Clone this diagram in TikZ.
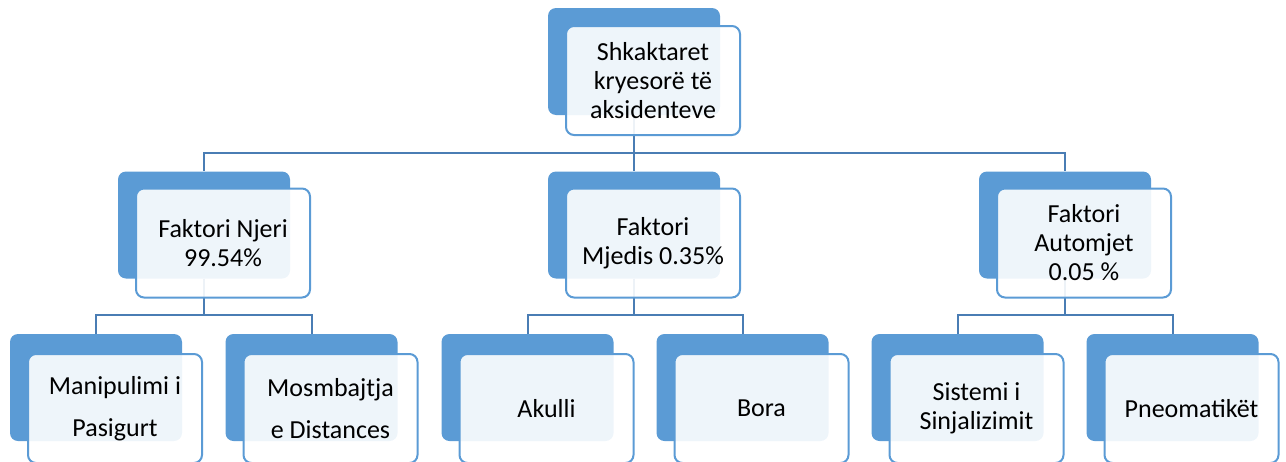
\documentclass[tikz,border=0pt]{standalone}
\usepackage{fontspec}
\setmainfont{Carlito}
\usetikzlibrary{positioning}
\definecolor{boxblue}{HTML}{5B9BD5}
\definecolor{linkblue}{HTML}{4A7DB4}

\begin{document}
\begin{tikzpicture}[x=1pt, y=-1pt, font=\fontsize{26}{29}\selectfont,
    backbox/.style={fill=boxblue, rounded corners=8pt, inner sep=0pt,
      minimum width=172pt, minimum height=107pt},
    frontbox/.style={draw=boxblue, line width=2pt, fill=white, fill opacity=0.9,
      text opacity=1, rounded corners=8pt, inner sep=0pt, align=center,
      minimum width=174pt, minimum height=109pt},
    conn/.style={draw=linkblue, line width=2pt}]
  \useasboundingbox (0,0) rectangle (1286,461);

  % back shapes
  \node[backbox] (root-b) at (634,61.5) {};
  \node[backbox] (njeri-b) at (204,225) {};
  \node[backbox] (mjedis-b) at (634,225) {};
  \node[backbox] (automjet-b) at (1065,225) {};
  \node[backbox] (manip-b) at (96,387.5) {};
  \node[backbox] (distanc-b) at (311.5,387.5) {};
  \node[backbox] (akull-b) at (527.5,387.5) {};
  \node[backbox] (bora-b) at (742.5,387.5) {};
  \node[backbox] (sinjal-b) at (957.5,387.5) {};
  \node[backbox] (pneum-b) at (1172.5,387.5) {};

  % connectors
  \coordinate (bus0) at (634,153);
  \coordinate (bus1) at (204,315);
  \coordinate (bus2) at (634,315);
  \coordinate (bus3) at (1065,315);
  \draw[conn] (root-b.south) -- (bus0);
  \draw[conn] (bus0) -| (njeri-b.north);
  \draw[conn] (bus0) -| (automjet-b.north);
  \draw[conn] (bus0) -- (mjedis-b.north);
  \draw[conn] (njeri-b.south) -- (bus1);
  \draw[conn] (bus1) -| (manip-b.north);
  \draw[conn] (bus1) -| (distanc-b.north);
  \draw[conn] (mjedis-b.south) -- (bus2);
  \draw[conn] (bus2) -| (akull-b.north);
  \draw[conn] (bus2) -| (bora-b.north);
  \draw[conn] (automjet-b.south) -- (bus3);
  \draw[conn] (bus3) -| (sinjal-b.north);
  \draw[conn] (bus3) -| (pneum-b.north);

  % front shapes with text
  \node[frontbox] (root) at (653,80.5) {Shkaktaret\\kryesorë të\\aksidenteve};
  \node[frontbox] (njeri) at (223,243) {Faktori Njeri\\99.54\%};
  \node[frontbox] (mjedis) at (653,243) {Faktori\\Mjedis 0.35\%};
  \node[frontbox] (automjet) at (1084,243) {Faktori\\Automjet\\0.05 \%};
  \node[frontbox] (manip) at (115,408.5) {Manipulimi i\\[13pt]Pasigurt};
  \node[frontbox] (distanc) at (330.5,408.5) {Mosmbajtja\\[13pt]e Distances};
  \node[frontbox] (akull) at (546.5,408.5) {Akulli};
  \node[frontbox] (bora) at (761.5,408.5) {Bora};
  \node[frontbox] (sinjal) at (976.5,408.5) {Sistemi i\\Sinjalizimit};
  \node[frontbox] (pneum) at (1191.5,408.5) {Pneomatikët};
\end{tikzpicture}
\end{document}
